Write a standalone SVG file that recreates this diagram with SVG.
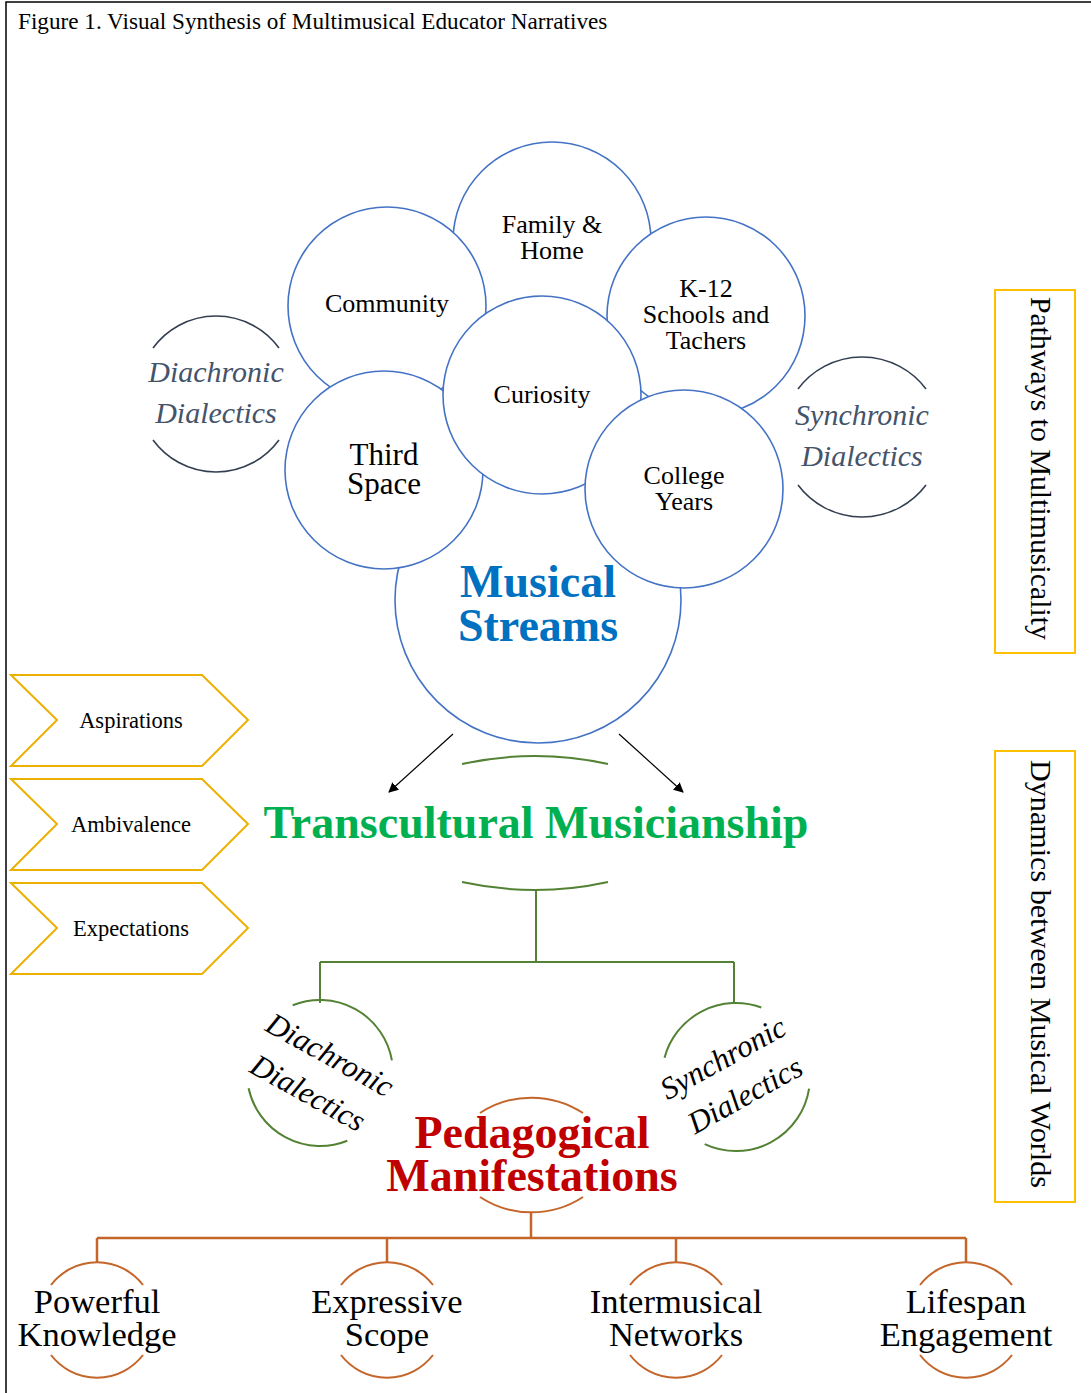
<svg xmlns="http://www.w3.org/2000/svg" width="1091" height="1393" viewBox="0 0 1091 1393">
  <defs>
    <marker id="arrow" viewBox="0 0 10 10" refX="9" refY="5" markerWidth="10" markerHeight="10" markerUnits="userSpaceOnUse" orient="auto">
      <path d="M0,0 L10,5 L0,10 Z" fill="#000"/>
    </marker>
    <style>
      text { font-family: "Liberation Serif", "Times New Roman", serif; }
      .bubble { fill: #fff; stroke: #4472C4; stroke-width: 1.6; }
      .bt { font-size: 26px; fill: #000; text-anchor: middle; }
      .bt.lg { font-size: 31px; }
      .big { font-size: 46px; font-weight: bold; text-anchor: middle; }
      .dia { font-size: 30px; font-style: italic; fill: #44546A; text-anchor: middle; }
      .darc { fill: none; stroke: #333F50; stroke-width: 1.6; }
      .garc { fill: none; stroke: #548235; stroke-width: 2; }
      .oarc { fill: none; stroke: #C4652A; stroke-width: 2; }
      .chev { fill: #fff; stroke: #EBB000; stroke-width: 2; }
      .ct { font-size: 22.5px; fill: #000; text-anchor: middle; }
      .side { fill: #fff; stroke: #FFC000; stroke-width: 2; }
      .st { font-size: 30px; fill: #000; text-anchor: middle; }
      .rt { font-size: 31px; font-style: italic; fill: #000; text-anchor: middle; }
      .lt { font-size: 34.5px; fill: #000; text-anchor: middle; }
      .gline { fill: none; stroke: #548235; stroke-width: 2; }
      .oline { fill: none; stroke: #C4652A; stroke-width: 2.5; }
    </style>
  </defs>

  <rect width="1091" height="1393" fill="#fff"/>
  <!-- page frame -->
  <path d="M6,1393 V2 H1091" fill="none" stroke="#000" stroke-width="1.5"/>
  <text x="18" y="29" font-size="23.2px" fill="#000">Figure 1. Visual Synthesis of Multimusical Educator Narratives</text>

  <!-- bubble cluster, back to front -->
  <g id="musical-streams">
    <circle class="bubble" cx="538" cy="600" r="143"/>
  </g>
  <g id="family-home">
    <circle class="bubble" cx="552" cy="241" r="99"/>
    <text class="bt" x="552" y="233">Family &amp;</text>
    <text class="bt" x="552" y="259">Home</text>
  </g>
  <g id="community">
    <circle class="bubble" cx="387" cy="306" r="99"/>
    <text class="bt" x="387" y="312">Community</text>
  </g>
  <g id="k12">
    <circle class="bubble" cx="706" cy="316" r="99"/>
    <text class="bt" x="706" y="297">K-12</text>
    <text class="bt" x="706" y="323">Schools and</text>
    <text class="bt" x="706" y="349">Tachers</text>
  </g>
  <g id="third-space">
    <circle class="bubble" cx="384" cy="470" r="99"/>
    <text class="bt lg" x="384" y="465">Third</text>
    <text class="bt lg" x="384" y="494">Space</text>
  </g>
  <g id="curiosity">
    <circle class="bubble" cx="542" cy="395" r="99"/>
    <text class="bt" x="542" y="403">Curiosity</text>
  </g>
  <g id="college-years">
    <circle class="bubble" cx="684" cy="489" r="99"/>
    <text class="bt" x="684" y="484">College</text>
    <text class="bt" x="684" y="510">Years</text>
  </g>
  <g id="musical-streams-label">
    <text class="big" x="538" y="597" fill="#0070C0">Musical</text>
    <text class="big" x="538" y="641" fill="#0070C0">Streams</text>
  </g>

  <!-- dialectics around the cluster -->
  <g id="diachronic-top">
    <path class="darc" d="M153,348 A78,78 0 0 1 279,348"/>
    <path class="darc" d="M153,440 A78,78 0 0 0 279,440"/>
    <text class="dia" x="216" y="382">Diachronic</text>
    <text class="dia" x="216" y="423">Dialectics</text>
  </g>
  <g id="synchronic-top">
    <path class="darc" d="M798,389 A80,80 0 0 1 926,389"/>
    <path class="darc" d="M798,485 A80,80 0 0 0 926,485"/>
    <text class="dia" x="862" y="425">Synchronic</text>
    <text class="dia" x="862" y="466">Dialectics</text>
  </g>

  <!-- side labels -->
  <g id="pathways">
    <rect class="side" x="995" y="290" width="80" height="363"/>
    <text class="st" transform="translate(1031,468.5) rotate(90)" textLength="343" lengthAdjust="spacingAndGlyphs">Pathways to Multimusicality</text>
  </g>
  <g id="dynamics">
    <rect class="side" x="995" y="751" width="80" height="451"/>
    <text class="st" transform="translate(1031,974) rotate(90)" textLength="428" lengthAdjust="spacingAndGlyphs">Dynamics between Musical Worlds</text>
  </g>

  <!-- chevrons -->
  <g id="aspirations">
    <polygon class="chev" points="11,675 202,675 248,720 202,766 11,766 57,720"/>
    <text class="ct" x="131" y="728">Aspirations</text>
  </g>
  <g id="ambivalence">
    <polygon class="chev" points="11,779 202,779 248,824 202,870 11,870 57,824"/>
    <text class="ct" x="131" y="832">Ambivalence</text>
  </g>
  <g id="expectations">
    <polygon class="chev" points="11,883 202,883 248,928 202,974 11,974 57,928"/>
    <text class="ct" x="131" y="936">Expectations</text>
  </g>

  <!-- transcultural musicianship -->
  <g id="transcultural">
    <path class="garc" d="M462,764 A340,340 0 0 1 608,764"/>
    <path class="garc" d="M462,882 A340,340 0 0 0 608,882"/>
    <text class="big" x="536" y="838" fill="#00B050">Transcultural Musicianship</text>
  </g>

  <g id="diachronic-low">
    <path class="garc" d="M292.7,1005.3 A73,73 0 0 1 391.9,1060.3"/>
    <path class="garc" d="M248.6,1088.2 A73,73 0 0 0 347.3,1140.7"/>
    <text class="rt" transform="translate(325,1064) rotate(29)">Diachronic</text>
    <text class="rt" transform="translate(303,1102) rotate(29)">Dialectics</text>
  </g>
  <g id="synchronic-low">
    <path class="garc" d="M664.5,1057.8 A74,74 0 0 1 761.3,1007.5"/>
    <path class="garc" d="M809.1,1088.6 A74,74 0 0 1 704.7,1144.1"/>
    <text class="rt" transform="translate(728,1067) rotate(-29)">Synchronic</text>
    <text class="rt" transform="translate(750,1104) rotate(-29)">Dialectics</text>
  </g>

  <g id="pedagogical">
    <path class="oarc" d="M480,1113 A94,94 0 0 1 583,1113"/>
    <path class="oarc" d="M480,1197 A94,94 0 0 0 583,1197"/>
    <text class="big" x="532" y="1148" fill="#C00000">Pedagogical</text>
    <text class="big" x="532" y="1191" fill="#C00000">Manifestations</text>
  </g>

  <!-- manifestations -->
  <g id="powerful-knowledge">
    <path class="oarc" d="M51,1285 A58,58 0 0 1 143,1285"/>
    <path class="oarc" d="M51,1355 A58,58 0 0 0 143,1355"/>
    <text class="lt" x="97" y="1313">Powerful</text>
    <text class="lt" x="97" y="1346">Knowledge</text>
  </g>
  <g id="expressive-scope">
    <path class="oarc" d="M341,1285 A58,58 0 0 1 433,1285"/>
    <path class="oarc" d="M341,1355 A58,58 0 0 0 433,1355"/>
    <text class="lt" x="387" y="1313">Expressive</text>
    <text class="lt" x="387" y="1346">Scope</text>
  </g>
  <g id="intermusical-networks">
    <path class="oarc" d="M630,1285 A58,58 0 0 1 722,1285"/>
    <path class="oarc" d="M630,1355 A58,58 0 0 0 722,1355"/>
    <text class="lt" x="676" y="1313">Intermusical</text>
    <text class="lt" x="676" y="1346">Networks</text>
  </g>
  <g id="lifespan-engagement">
    <path class="oarc" d="M920,1285 A58,58 0 0 1 1012,1285"/>
    <path class="oarc" d="M920,1355 A58,58 0 0 0 1012,1355"/>
    <text class="lt" x="966" y="1313">Lifespan</text>
    <text class="lt" x="966" y="1346">Engagement</text>
  </g>

  <!-- connectors -->
  <g id="connectors">
    <line x1="453" y1="734" x2="389" y2="792" stroke="#000" stroke-width="1.2" marker-end="url(#arrow)"/>
    <line x1="619" y1="734" x2="683" y2="792" stroke="#000" stroke-width="1.2" marker-end="url(#arrow)"/>
    <path class="gline" d="M536,890 V962 M320,962 H734 M320,962 V1003 M734,962 V1003"/>
    <path class="oline" d="M531,1213 V1238 M97,1238 H966 M97,1238 V1262 M387,1238 V1262 M676,1238 V1262 M966,1238 V1262"/>
  </g>
</svg>
